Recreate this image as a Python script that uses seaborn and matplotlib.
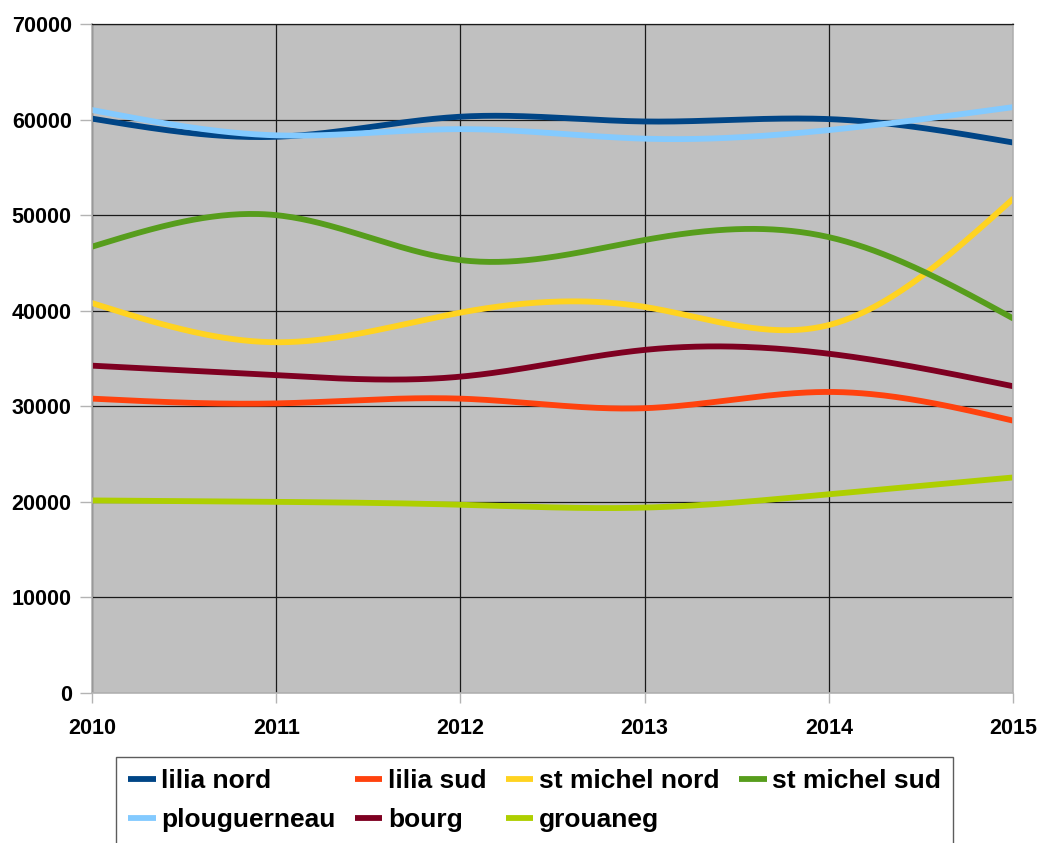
import numpy as np
import pandas as pd
import matplotlib
matplotlib.use("Agg")
import matplotlib.pyplot as plt
import seaborn as sns

# Data
years = [2010, 2011, 2012, 2013, 2014, 2015]
series_names = ["lilia nord", "lilia sud", "st michel nord", "st michel sud",
                "plouguerneau", "bourg", "grouaneg"]
lilia_nord = [60100, 58200, 60300, 59800, 60050, 57600]
lilia_sud = [30800, 30300, 30800, 29800, 31500, 28500]
st_michel_nord = [40800, 36700, 39800, 40400, 38500, 51700]
st_michel_sud = [46700, 50000, 45300, 47400, 47700, 39200]
plouguerneau = [61000, 58350, 59000, 58000, 58900, 61300]
bourg = [34250, 33250, 33100, 35900, 35500, 32100]
grouaneg = [20150, 20000, 19700, 19400, 20800, 22550]
all_values = [lilia_nord, lilia_sud, st_michel_nord, st_michel_sud,
              plouguerneau, bourg, grouaneg]
colors = ["#004586", "#ff420e", "#ffd320", "#579d1c",
          "#83caff", "#7e0021", "#aecf00"]


def natural_spline(x, y, n=300):
    # natural cubic spline, like the "smooth" lines of the office chart
    x = np.asarray(x, float)
    y = np.asarray(y, float)
    k = len(x)
    h = np.diff(x)
    A = np.zeros((k, k))
    rhs = np.zeros(k)
    A[0, 0] = 1
    A[-1, -1] = 1
    for i in range(1, k - 1):
        A[i, i - 1] = h[i - 1]
        A[i, i] = 2 * (h[i - 1] + h[i])
        A[i, i + 1] = h[i]
        rhs[i] = 3 * ((y[i + 1] - y[i]) / h[i] - (y[i] - y[i - 1]) / h[i - 1])
    c = np.linalg.solve(A, rhs)
    b = (y[1:] - y[:-1]) / h - h * (2 * c[:-1] + c[1:]) / 3
    d = (c[1:] - c[:-1]) / (3 * h)
    xs = np.linspace(x[0], x[-1], n)
    idx = np.clip(np.searchsorted(x, xs, side="right") - 1, 0, k - 2)
    t = xs - x[idx]
    ys = y[idx] + b[idx] * t + c[idx] * t ** 2 + d[idx] * t ** 3
    return xs, ys


frames = []
for name, vals in zip(series_names, all_values):
    xs, ys = natural_spline(years, vals)
    frames.append(pd.DataFrame({"year": xs, "value": ys, "series": name}))
df = pd.concat(frames, ignore_index=True)

sns.set_style("ticks")
plt.rcParams["font.family"] = ["Liberation Sans", "DejaVu Sans"]
plt.rcParams["font.weight"] = "bold"
plt.rcParams["text.color"] = "black"
plt.rcParams["xtick.labelcolor"] = "black"
plt.rcParams["ytick.labelcolor"] = "black"

fig = plt.figure(figsize=(10.38, 8.43), dpi=100)
ax = fig.add_axes([92 / 1038, 1 - 693 / 843, (1013 - 92) / 1038, (693 - 24) / 843])
ax.set_facecolor("#c0c0c0")

sns.lineplot(data=df, x="year", y="value", hue="series", hue_order=series_names,
             palette=colors, estimator=None, sort=False, linewidth=4.2,
             ax=ax, legend=True)

ax.set_xlim(2010, 2015)
ax.set_ylim(0, 70000)
ax.set_xticks(years)
ax.set_xticklabels([str(y) for y in years])
ax.set_yticks(range(0, 70001, 10000))
ax.set_yticklabels([str(v) for v in range(0, 70001, 10000)])
ax.set_xlabel("")
ax.set_ylabel("")
ax.grid(True, color="#1a1a1a", linewidth=0.9)
ax.set_axisbelow(True)
for side in ["left", "bottom", "right"]:
    ax.spines[side].set_color("#b3b3b3")
    ax.spines[side].set_linewidth(1.2)
ax.spines["top"].set_color("#1a1a1a")
ax.spines["top"].set_linewidth(0.9)
ax.tick_params(axis="y", length=8.6, width=1, color="#b3b3b3", pad=6,
               labelsize=15.5, labelcolor="black")
ax.tick_params(axis="x", length=7.2, width=1, color="#b3b3b3", pad=10.5,
               labelsize=15.5, labelcolor="black")
for lab in ax.get_xticklabels() + ax.get_yticklabels():
    lab.set_fontweight("bold")

handles, labels = ax.get_legend_handles_labels()
ax.get_legend().remove()
lookup = dict(zip(labels, handles))
# column-major order so that rows read like the reference
order = ["lilia nord", "plouguerneau", "lilia sud", "bourg",
         "st michel nord", "grouaneg", "st michel sud"]
leg = fig.legend([lookup[o] for o in order], order, loc="upper left",
                 bbox_to_anchor=(116 / 1038, 1 - 757 / 843), ncol=4,
                 frameon=True, fancybox=False, edgecolor="#333333",
                 prop={"size": 19, "weight": "bold"}, handlelength=1.05,
                 handletextpad=0.22, columnspacing=0.72, labelspacing=0.58,
                 borderpad=0.45, borderaxespad=0)
leg.get_frame().set_linewidth(1.0)
for line in leg.get_lines():
    line.set_linewidth(4.2)
    line.set_solid_capstyle("butt")
for txt in leg.get_texts():
    txt.set_color("black")

fig.savefig("out.png", dpi=100)
plt.close(fig)
